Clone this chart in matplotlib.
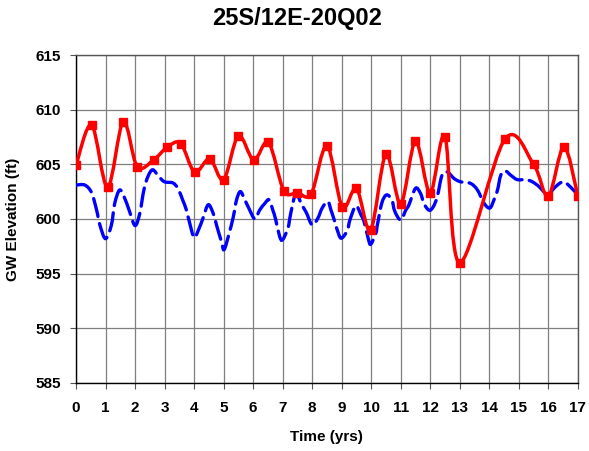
import numpy as np
import matplotlib
matplotlib.use('Agg')
import matplotlib.pyplot as plt
from matplotlib.path import Path
from matplotlib.patches import PathPatch

plt.rcParams['font.family'] = ['Liberation Sans', 'DejaVu Sans']

# ── Data ──────────────────────────────────────────────────────────────────────
# observed groundwater elevation (ft)
obs_time = [0.0, 0.53, 1.07, 1.6, 2.07, 2.63, 3.1, 3.55, 4.02, 4.53, 5.0,
            5.5, 6.02, 6.52, 7.04, 7.5, 7.97, 8.5, 9.02, 9.5, 9.98, 10.5,
            11.0, 11.5, 12.0, 12.5, 13.0, 14.53, 15.5, 16.0, 16.53, 17.0]
obs_elev = [604.9, 608.6, 602.9, 608.9, 604.8, 605.4, 606.6, 606.9, 604.3,
            605.5, 603.6, 607.6, 605.4, 607.0, 602.6, 602.4, 602.3, 606.7,
            601.1, 602.8, 599.0, 605.9, 601.4, 607.1, 602.4, 607.5, 596.0,
            607.3, 605.0, 602.1, 606.6, 602.1]

# simulated groundwater elevation (ft)
sim_time = [0.0, 0.3, 0.53, 0.7, 0.81, 1.0, 1.2, 1.31, 1.48, 1.65, 1.8, 2.0,
            2.16, 2.3, 2.44, 2.6, 2.8, 3.0, 3.28, 3.45, 3.62, 3.73, 3.84, 4.0,
            4.15, 4.3, 4.48, 4.65, 4.76, 4.93, 5.02, 5.19, 5.33, 5.44, 5.57,
            5.72, 5.87, 6.06, 6.22, 6.39, 6.54, 6.67, 6.76, 6.9, 7.0, 7.18,
            7.26, 7.4, 7.48, 7.63, 7.8, 8.0, 8.19, 8.34, 8.53, 8.64, 8.75,
            8.92, 9.03, 9.2, 9.28, 9.48, 9.65, 9.76, 9.91, 9.99, 10.16, 10.21,
            10.36, 10.52, 10.7, 10.8, 11.0, 11.17, 11.28, 11.5, 11.67, 11.79,
            11.96, 12.1, 12.24, 12.4, 12.58, 12.81, 13.03, 13.37, 13.6, 13.82,
            14.02, 14.16, 14.28, 14.39, 14.54, 14.73, 14.95, 15.24, 15.46,
            15.69, 15.89, 16.0, 16.19, 16.5, 16.76, 17.0]
sim_elev = [603.1, 603.1, 602.4, 600.8, 599.45, 598.2, 599.45, 601.4, 602.65,
            601.9, 600.8, 599.4, 600.5, 602.65, 603.9, 604.5, 603.9, 603.4,
            603.3, 602.8, 601.7, 600.9, 599.75, 598.3, 599.0, 600.05, 601.3,
            600.5, 599.45, 597.9, 597.2, 598.7, 600.2, 601.75, 602.5, 601.75,
            600.9, 600.0, 600.8, 601.4, 601.75, 600.8, 600.0, 598.4, 598.1,
            599.15, 600.3, 602.05, 602.35, 601.4, 600.6, 599.45, 600.05, 601.0,
            601.6, 600.8, 599.9, 598.45, 598.3, 599.0, 599.9, 601.2, 600.4,
            599.75, 598.1, 597.7, 598.7, 599.45, 601.45, 602.2, 601.75, 600.7,
            599.9, 600.8, 601.3, 602.8, 602.35, 601.4, 600.8, 601.1, 602.05,
            604.0, 604.3, 603.7, 603.4, 603.25, 602.65, 601.45, 601.0, 601.75,
            602.65, 604.0, 604.4, 604.0, 603.6, 603.6, 603.4, 602.95, 602.35,
            602.1, 602.8, 603.4, 602.9, 602.2]

x_ticks = list(range(0, 18))
y_ticks = [585, 590, 595, 600, 605, 610, 615]


def smooth_path(xs, ys):
    """Bezier path through the points, spreadsheet-style smoothed line."""
    p = np.column_stack([xs, ys]).astype(float)
    ext = np.vstack([p[0], p, p[-1]])
    verts = [p[0]]
    codes = [Path.MOVETO]
    for i in range(len(p) - 1):
        p0, p1, p2, p3 = ext[i], ext[i + 1], ext[i + 2], ext[i + 3]
        verts += [p1 + (p2 - p0) / 6.0, p2 - (p3 - p1) / 6.0, p2]
        codes += [Path.CURVE4] * 3
    return Path(verts, codes)


# ── Figure ────────────────────────────────────────────────────────────────────
fig = plt.figure(figsize=(5.89, 4.51), dpi=100)
ax = fig.add_axes([0.129, 0.151, 0.852, 0.727])

ax.set_xlim(0, 17)
ax.set_ylim(585, 615)
ax.set_xticks(x_ticks)
ax.set_yticks(y_ticks)
ax.grid(True, color='#7f7f7f', linewidth=0.9)
ax.set_axisbelow(True)

sim = PathPatch(smooth_path(sim_time, sim_elev), fill=False, edgecolor='#0000ff',
                linewidth=2.4, linestyle=(0, (5.5, 2.2)), capstyle='round',
                zorder=3)
ax.add_patch(sim)

obs = PathPatch(smooth_path(obs_time, obs_elev), fill=False, edgecolor='#ff0000',
                linewidth=2.5, zorder=4)
ax.add_patch(obs)
ax.plot(obs_time, obs_elev, linestyle='none', marker='s', markersize=6.2,
        color='#ff0000', zorder=5)

for side in ['top', 'right']:
    ax.spines[side].set_color('#555555')
for side in ['left', 'bottom']:
    ax.spines[side].set_color('#000000')
for s in ax.spines.values():
    s.set_linewidth(1.0)

ax.tick_params(axis='both', direction='out', length=4, color='#555555',
               labelsize=11)
ax.tick_params(axis='x', pad=9)
ax.tick_params(axis='y', pad=7)
for lbl in ax.get_xticklabels() + ax.get_yticklabels():
    lbl.set_fontweight('bold')

ax.set_xlabel('Time (yrs)', fontsize=11, fontweight='bold', labelpad=11)
ax.set_ylabel('GW Elevation (ft)', fontsize=11, fontweight='bold', labelpad=11)
fig.text(0.505, 0.958, '25S/12E-20Q02', ha='center', va='center',
         fontsize=17, fontweight='bold')

plt.savefig('out.png', dpi=100)
plt.close()
